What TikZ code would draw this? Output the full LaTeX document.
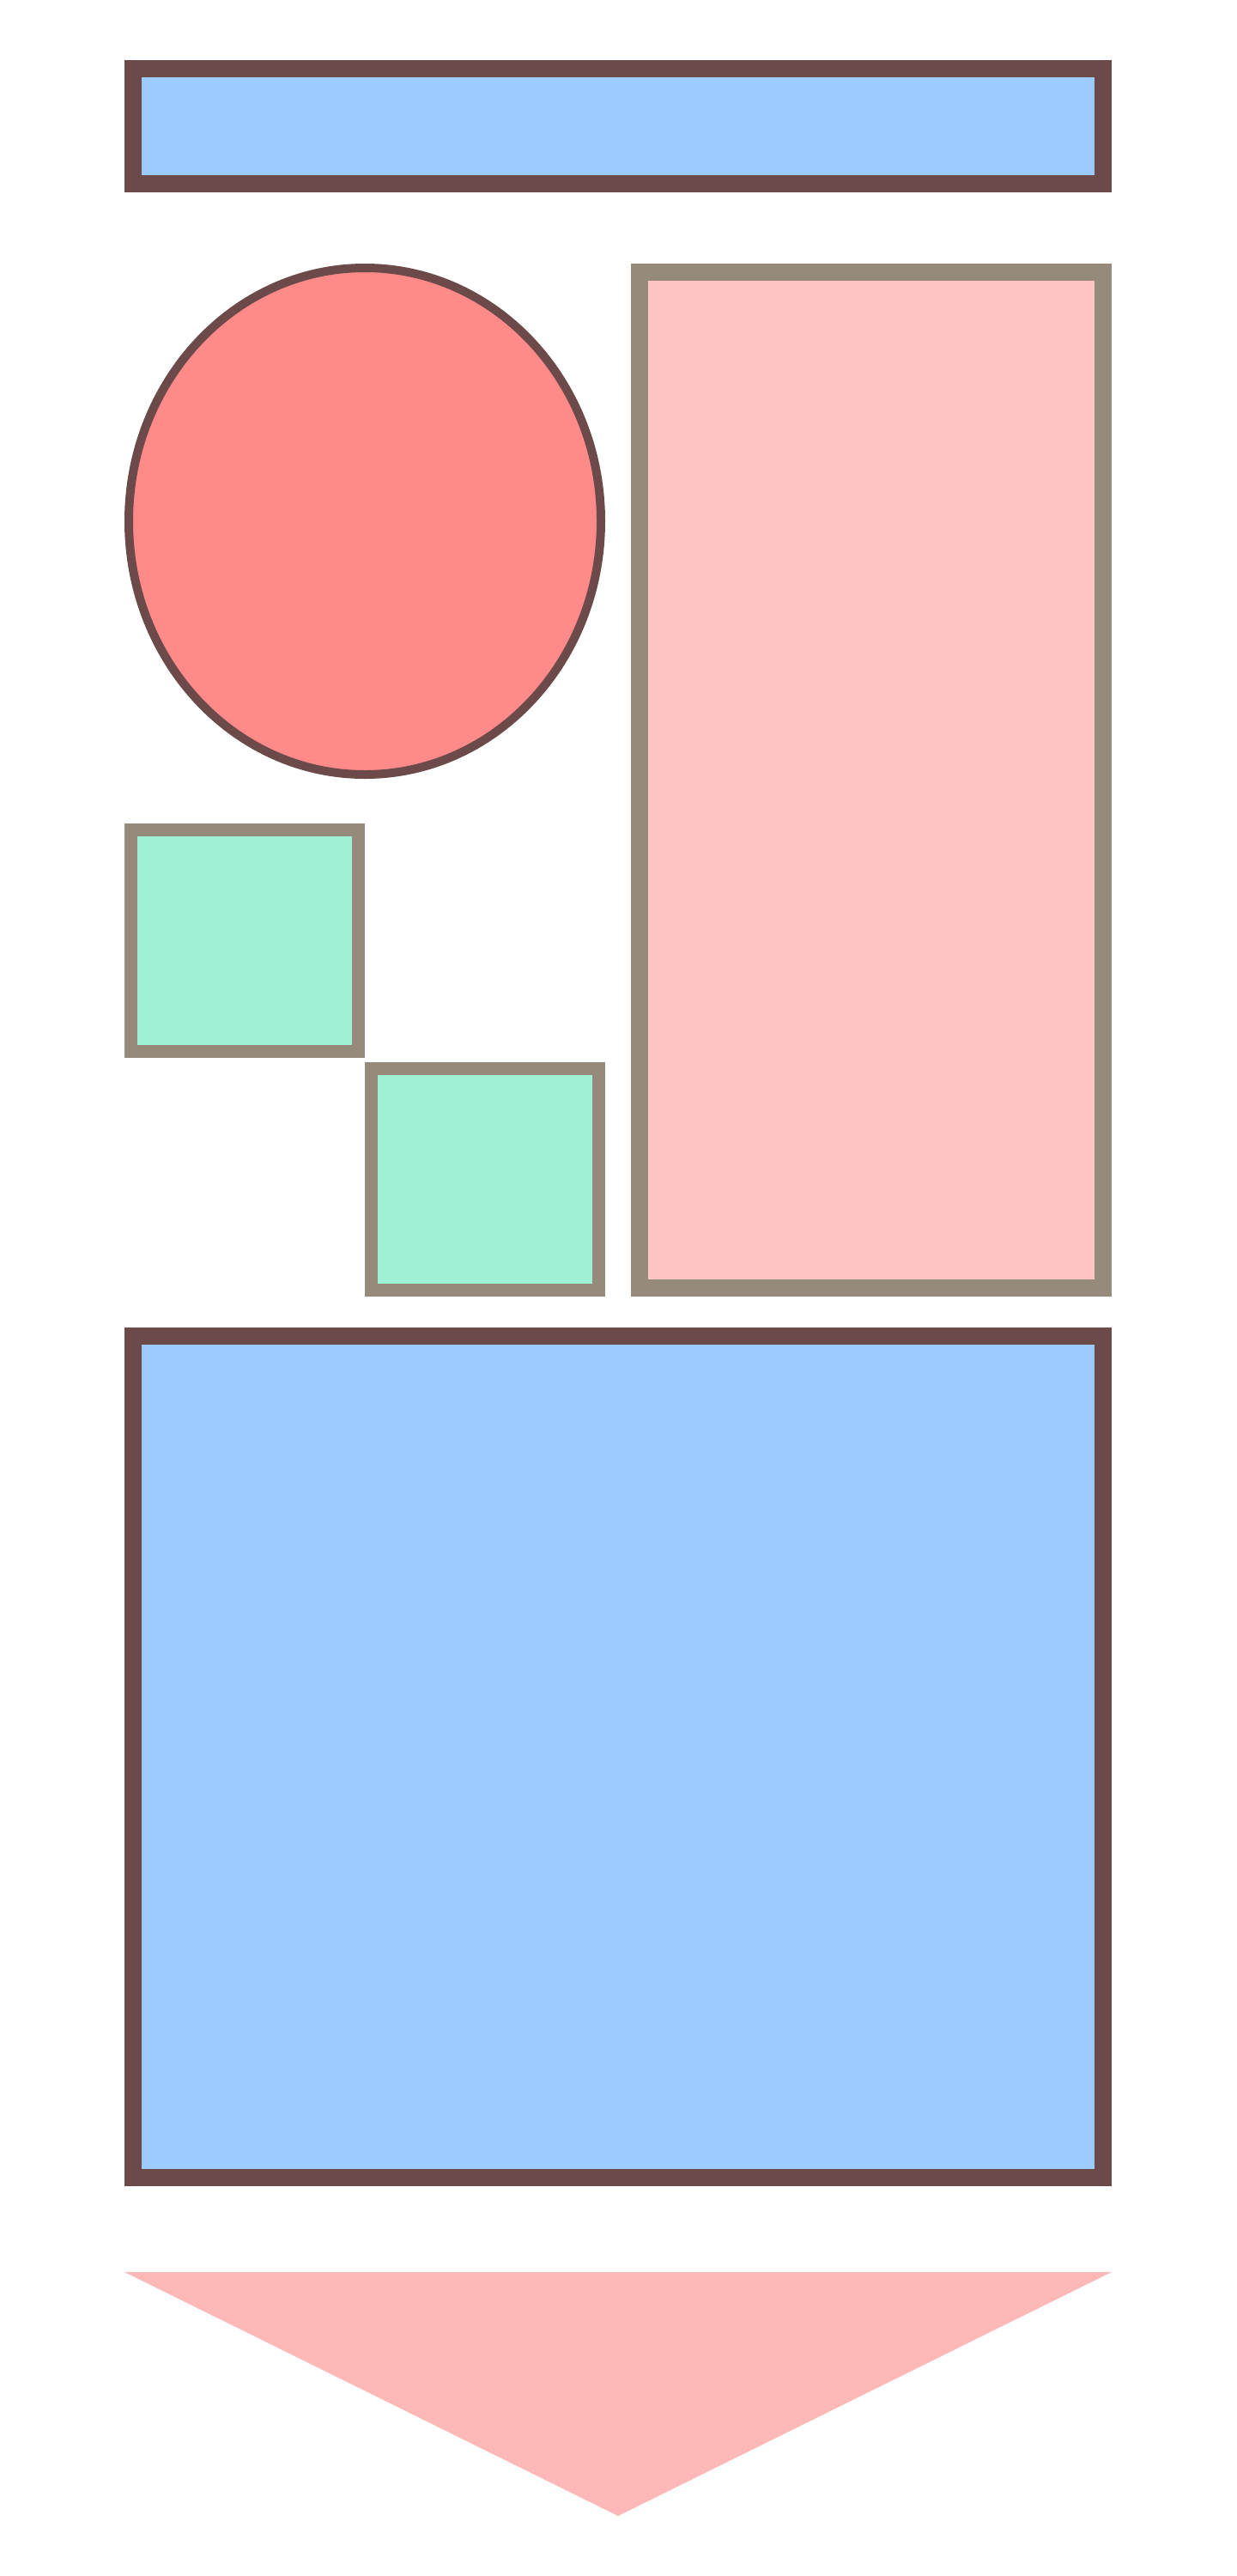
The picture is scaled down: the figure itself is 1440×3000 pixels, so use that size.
\documentclass[tikz,border=0pt]{standalone}
\usetikzlibrary{shapes.geometric}
\definecolor{darkedge}{HTML}{6D4A4A}
\definecolor{greyedge}{HTML}{968A7A}
\definecolor{bluefill}{HTML}{9BCBFF}
\definecolor{pinkfill}{HTML}{FFC4C4}
\definecolor{greenfill}{HTML}{9FF0D4}
\definecolor{redfill}{HTML}{FF8A8A}
\definecolor{trifill}{HTML}{FFB8B8}
\tikzset{
  box/.style={rectangle, inner sep=0pt, outer sep=0pt},
  bluebox/.style={box, draw=darkedge, fill=bluefill, line width=20pt},
  pinkbox/.style={box, draw=greyedge, fill=pinkfill, line width=20pt},
  greenbox/.style={box, draw=greyedge, fill=greenfill, line width=15pt},
  redoval/.style={ellipse, inner sep=0pt, outer sep=0pt, draw=darkedge, fill=redfill, line width=10pt},
}
\begin{document}
\begin{tikzpicture}[x=1pt,y=-1pt]
\useasboundingbox[fill=white] (0,0) rectangle (1440,3000);
\node[bluebox, minimum width=1130pt, minimum height=134pt] (top) at (720,147) {};
\node[redoval, minimum width=550pt, minimum height=590pt] (oval) at (425,607) {};
\node[pinkbox, minimum width=540pt, minimum height=1183pt] (tall) at (1015,908.5) {};
\node[greenbox, minimum width=265pt, minimum height=258pt] (g1) at (285,1095.5) {};
\node[greenbox, minimum width=265pt, minimum height=258pt] (g2) at (565,1373.5) {};
\node[bluebox, minimum width=1130pt, minimum height=980pt] (big) at (720,2046) {};
\fill[trifill] (145,2646) -- (1295,2646) -- (720,2930) -- cycle;
\end{tikzpicture}
\end{document}
